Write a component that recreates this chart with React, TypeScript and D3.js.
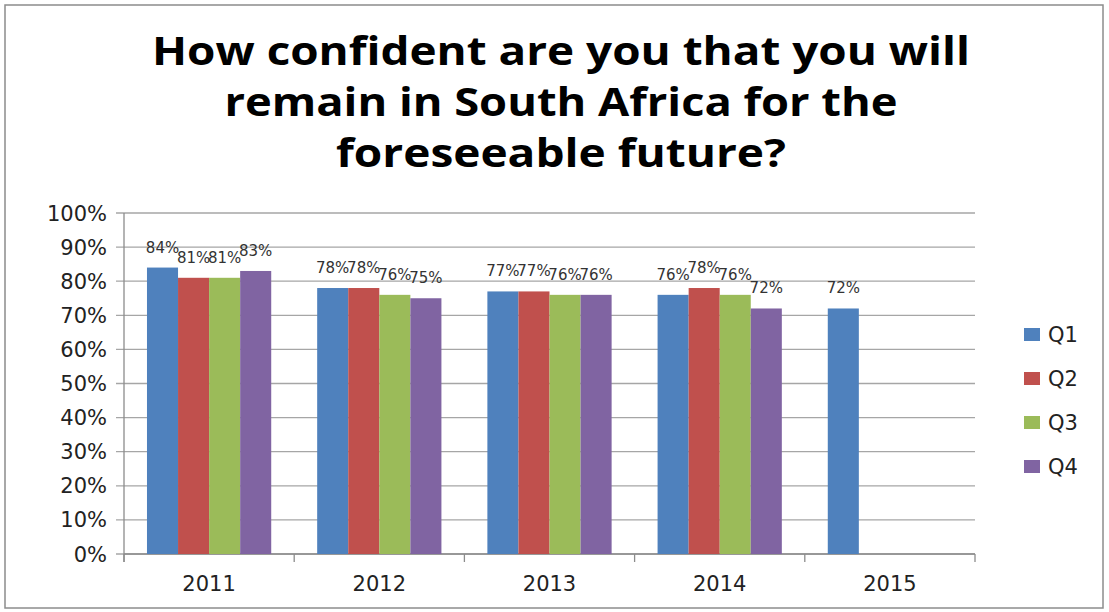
import React from "react";
import * as d3 from "d3";

const years = ["2011", "2012", "2013", "2014", "2015"];
const quarters = ["Q1", "Q2", "Q3", "Q4"];
const q1 = [84, 78, 77, 76, 72];
const q2 = [81, 78, 77, 78, null];
const q3 = [81, 76, 76, 76, null];
const q4 = [83, 75, 76, 72, null];
const yTicks = [0, 10, 20, 30, 40, 50, 60, 70, 80, 90, 100];
const colors = ["#4F81BD", "#C0504D", "#9BBB59", "#8064A2"];
const titleLines = [
  "How confident are you that you will",
  "remain in South Africa for the",
  "foreseeable future?",
];

const App: React.FC = () => {
  const width = 1109;
  const height = 612;
  const left = 124;
  const right = 975;
  const top = 213;
  const bottom = 554;

  const series = [q1, q2, q3, q4];

  const x = d3.scaleBand().domain(years).range([left, right]).paddingInner(0.27).paddingOuter(0.135);
  const xs = d3.scaleBand().domain(quarters).range([0, x.bandwidth()]);
  const y = d3.scaleLinear().domain([0, 100]).range([bottom, top]);
  const step = (right - left) / years.length;

  const font = "'DejaVu Sans', Verdana, sans-serif";
  const titleWidths = [818, 673, 450];

  return (
    <svg width={width} height={height} style={{ position: "absolute", left: 0, top: 0, background: "#fff" }}>
      <rect x={5} y={5} width={1098} height={603} fill="#fff" stroke="#8c8c8c" strokeWidth={1.5} />

      {/* title */}
      {titleLines.map((t, i) => (
        <text
          key={t}
          x={561}
          y={65 + i * 51}
          textAnchor="middle"
          fontFamily="'Open Sans', sans-serif"
          fontWeight={700}
          fontSize={40}
          textLength={titleWidths[i]}
          lengthAdjust="spacingAndGlyphs"
          fill="#000"
        >
          {t}
        </text>
      ))}

      {/* gridlines */}
      {yTicks.map((t) => (
        <g key={t}>
          <line x1={left - 8} x2={right} y1={y(t)} y2={y(t)} stroke="#a6a6a6" strokeWidth={1.3} />
          <text x={107} y={y(t) + 7.5} textAnchor="end" fontFamily={font} fontSize={21} fill="#222">
            {t}%
          </text>
        </g>
      ))}

      {/* axes */}
      <line x1={left} x2={left} y1={top} y2={bottom + 8} stroke="#8c8c8c" strokeWidth={1.3} />
      {d3.range(years.length + 1).map((i) => (
        <line
          key={i}
          x1={left + i * step}
          x2={left + i * step}
          y1={bottom}
          y2={bottom + 8}
          stroke="#8c8c8c"
          strokeWidth={1.3}
        />
      ))}
      <line x1={left} x2={right} y1={bottom} y2={bottom} stroke="#8c8c8c" strokeWidth={1.3} />

      {/* bars */}
      {years.map((yr, yi) => (
        <g key={yr} transform={`translate(${x(yr)},0)`}>
          {series.map((s, si) => {
            const v = s[yi];
            if (v == null) return null;
            return (
              <g key={si}>
                <rect
                  x={xs(quarters[si])}
                  y={y(v)}
                  width={xs.bandwidth()}
                  height={bottom - y(v)}
                  fill={colors[si]}
                />
                <text
                  x={(xs(quarters[si]) as number) + xs.bandwidth() / 2}
                  y={y(v) - 15}
                  textAnchor="middle"
                  fontFamily={font}
                  fontSize={15}
                  fill="#333"
                >
                  {v}%
                </text>
              </g>
            );
          })}
        </g>
      ))}

      {/* x labels */}
      {years.map((yr) => (
        <text
          key={yr}
          x={(x(yr) as number) + x.bandwidth() / 2}
          y={591}
          textAnchor="middle"
          fontFamily={font}
          fontSize={21}
          fill="#222"
        >
          {yr}
        </text>
      ))}

      {/* legend */}
      {quarters.map((q, i) => (
        <g key={q} transform={`translate(1024,${334 + i * 44})`}>
          <rect x={0} y={-6} width={16} height={13} fill={colors[i]} />
          <text x={24} y={8} fontFamily={font} fontSize={21} fill="#222">
            {q}
          </text>
        </g>
      ))}
    </svg>
  );
};

export default App;
